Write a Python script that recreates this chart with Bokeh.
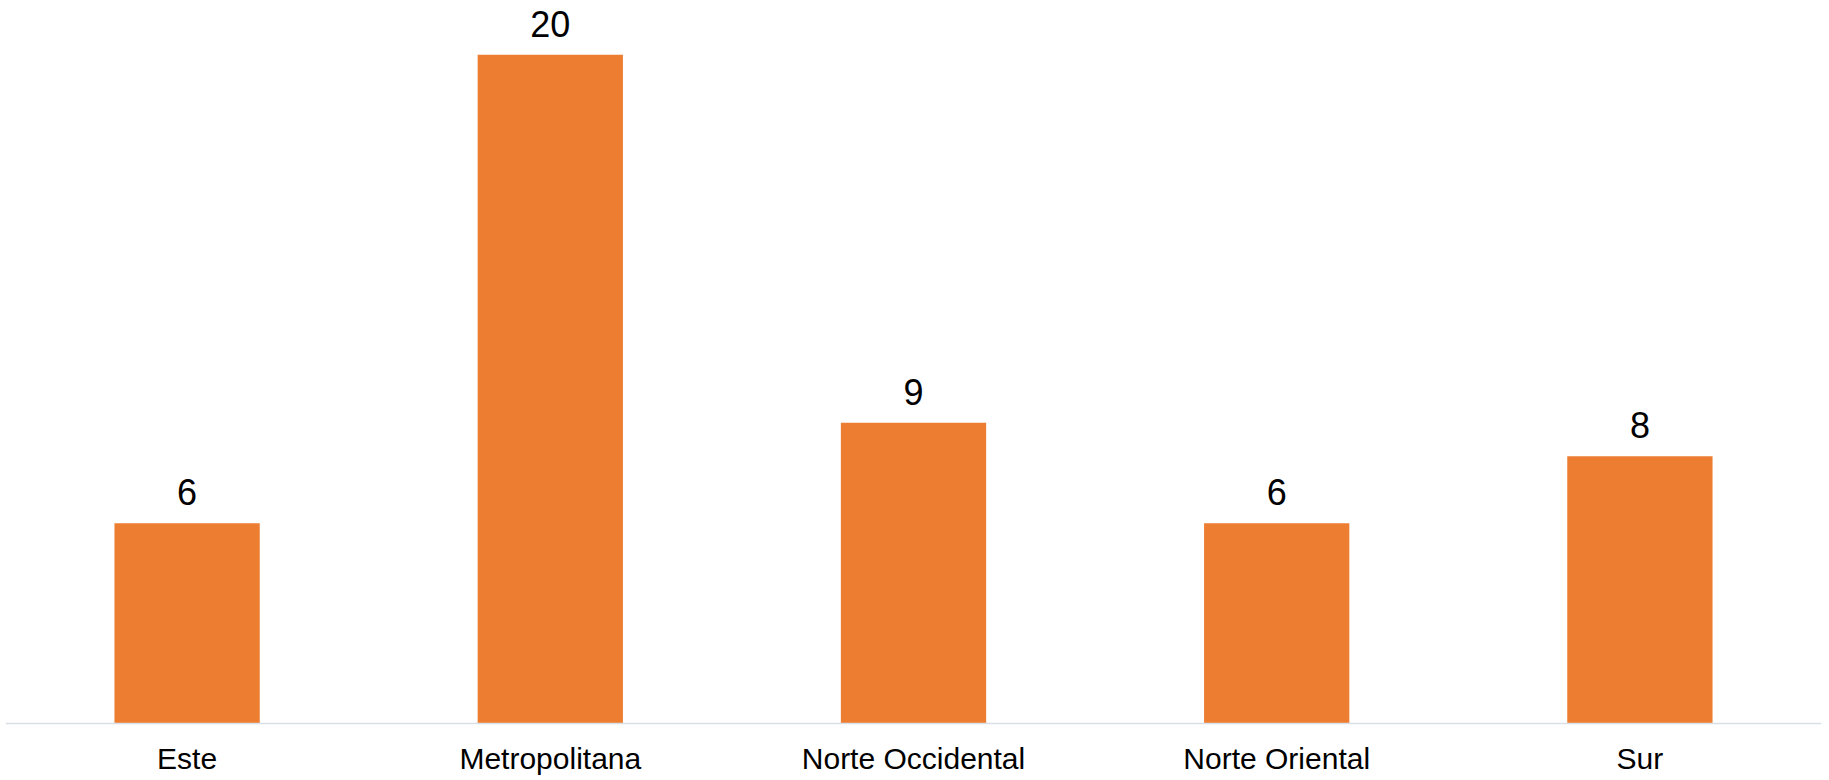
from bokeh.plotting import figure
from bokeh.models import ColumnDataSource, Range1d, FactorRange
from bokeh.core.properties import value
from bokeh.embed import file_html
from bokeh.resources import INLINE

categories = ["Este", "Metropolitana", "Norte Occidental", "Norte Oriental", "Sur"]
counts = [6, 20, 9, 6, 8]
count_labels = [str(v) for v in counts]

source = ColumnDataSource(data=dict(cat=categories, val=counts, lab=count_labels))

FONT = "Liberation Sans"

p = figure(
    x_range=FactorRange(*categories, range_padding=0),
    y_range=Range1d(-1.69, 21.62),
    width=1826,
    height=780,
    output_backend="svg",
    toolbar_location=None,
    min_border_left=5,
    min_border_right=5,
    min_border_top=0,
    min_border_bottom=0,
)

p.vbar(x="cat", top="val", width=0.4, source=source,
       fill_color="#ED7D31", line_color=None)

p.text(x="cat", y="val", text="lab", source=source,
       text_align="center", text_baseline="alphabetic", y_offset=-31,
       text_font=value(FONT), text_font_size="36px", text_color="#000000")

p.yaxis.visible = False
p.xgrid.visible = False
p.ygrid.visible = False
p.outline_line_color = None

ax = p.xaxis[0]
ax.fixed_location = 0
ax.axis_line_color = "#d9dfe8"
ax.axis_line_width = 1.5
ax.major_tick_line_color = None
ax.minor_tick_line_color = None
ax.major_tick_out = 0
ax.major_tick_in = 0
ax.major_label_standoff = 18
ax.major_label_text_font = FONT
ax.major_label_text_font_size = "30px"
ax.major_label_text_color = "#000000"

open("out.html", "w").write(file_html(p, INLINE))
